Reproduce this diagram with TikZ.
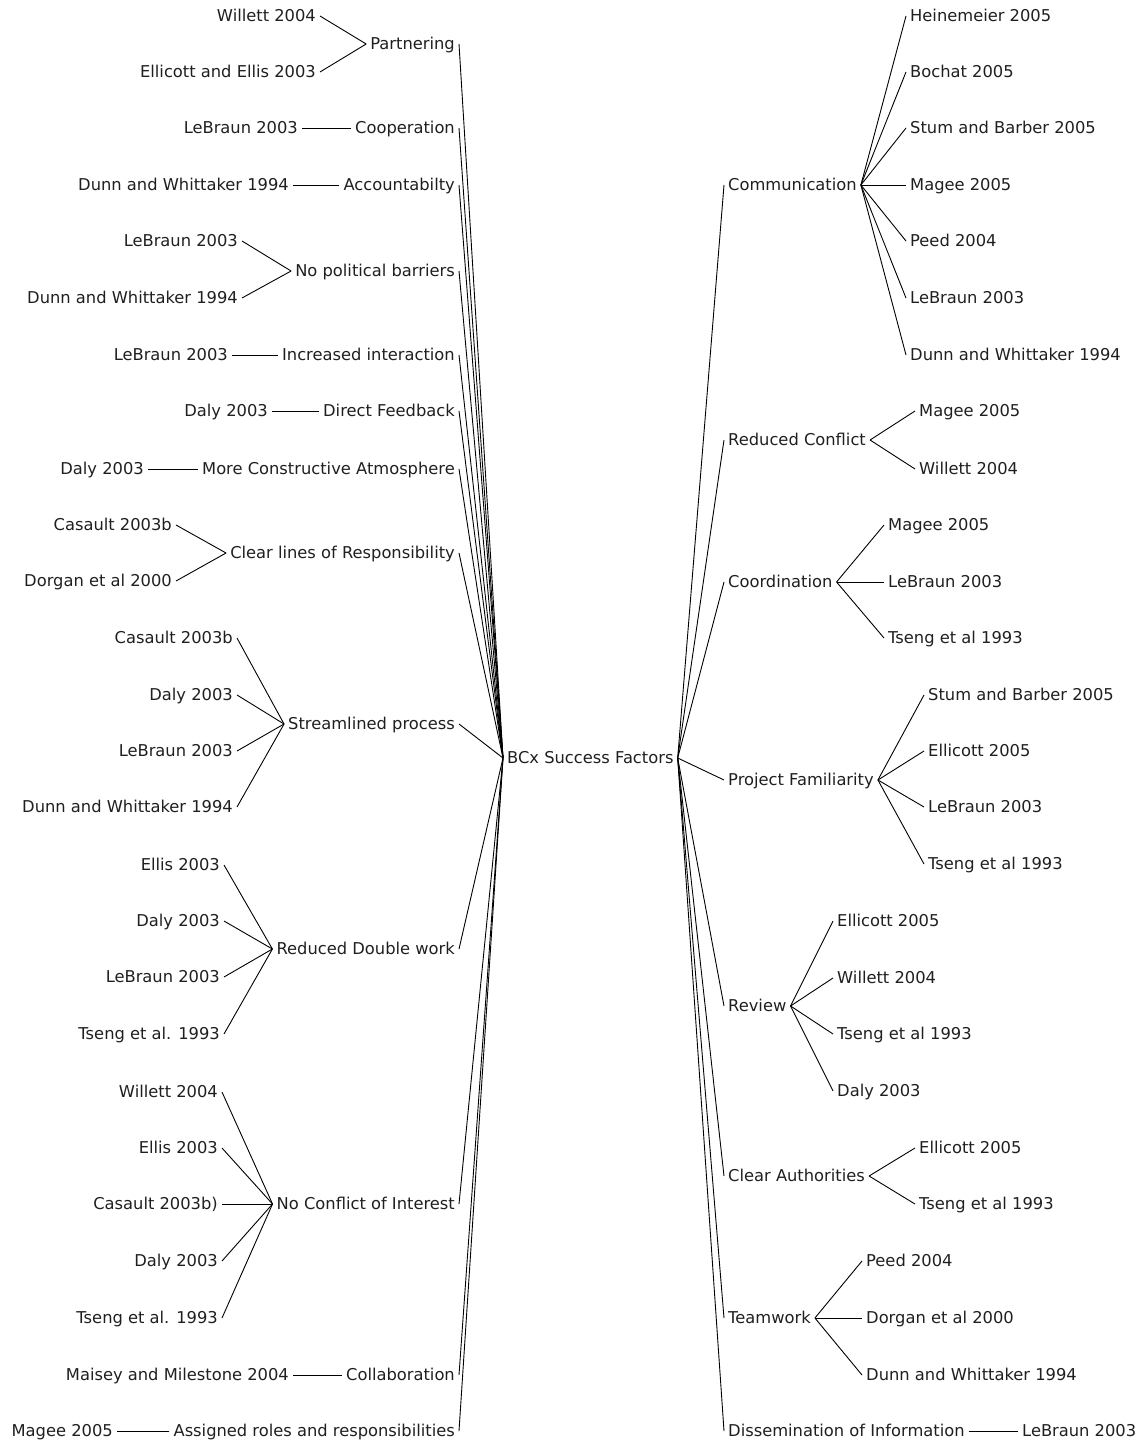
\documentclass[tikz,border=0pt]{standalone}
\usepackage{fontspec}
\setmainfont{DejaVu Sans}
\begin{document}
\begin{tikzpicture}[x=1pt,y=-1pt,
  every node/.style={font=\fontsize{16.3}{18}\selectfont, inner xsep=4pt, inner ysep=0pt,
    text height=11pt, text depth=0pt, text=black!88},
  leftnode/.style={anchor=east},
  rightnode/.style={anchor=west},
  link/.style={draw=black, line width=0.9pt}]
\useasboundingbox (0,0) rectangle (1141,1443);

% central topic
\node[anchor=west] (hub) at (503,758) {BCx Success Factors};

% factors on the left
\foreach \n/\y/\t in {pa/44/Partnering, co/128/Cooperation, ac/185/Accountabilty,
    np/271/No political barriers, ii/355/Increased interaction, df/411/Direct Feedback,
    mc/469/More Constructive Atmosphere, cl/553/Clear lines of Responsibility,
    sp/724/Streamlined process, rd/949/Reduced Double work,
    nc/1204/No Conflict of Interest, cb/1375/Collaboration,
    ar/1431/Assigned roles and responsibilities}{
  \node[leftnode] (\n) at (459,\y) {\t};
  \draw[link] (hub.west) -- (\n.east);
}

% factors on the right
\foreach \n/\y/\t in {cm/185/Communication, rc/440/Reduced Conflict, cd/582/Coordination,
    pf/780/Project Familiarity, rv/1006/Review, ca/1176/Clear Authorities,
    tw/1318/Teamwork, di/1431/Dissemination of Information}{
  \node[rightnode] (\n) at (724,\y) {\t};
  \draw[link] (hub.east) -- (\n.west);
}

% sources on the left
\foreach \p/\n/\x/\y/\t in {
    pa/pa1/320/16/Willett 2004, pa/pa2/320/72/Ellicott and Ellis 2003,
    co/co1/302/128/LeBraun 2003,
    ac/ac1/293/185/Dunn and Whittaker 1994,
    np/np1/242/241/LeBraun 2003, np/np2/242/298/Dunn and Whittaker 1994,
    ii/ii1/232/355/LeBraun 2003,
    df/df1/272/411/Daly 2003,
    mc/mc1/148/469/Daly 2003,
    cl/cl1/176/525/Casault 2003b, cl/cl2/176/581/Dorgan et al 2000,
    sp/sp1/237/638/Casault 2003b, sp/sp2/237/695/Daly 2003,
    sp/sp3/237/751/LeBraun 2003, sp/sp4/237/807/Dunn and Whittaker 1994,
    rd/rd1/224/865/Ellis 2003, rd/rd2/224/921/Daly 2003,
    rd/rd3/224/977/LeBraun 2003, rd/rd4/224/1034/Tseng et al. 1993,
    nc/nc1/222/1092/Willett 2004, nc/nc2/222/1148/Ellis 2003,
    nc/nc3/222/1204/Casault 2003b), nc/nc4/222/1261/Daly 2003,
    nc/nc5/222/1318/Tseng et al. 1993,
    cb/cb1/293/1375/Maisey and Milestone 2004,
    ar/ar1/117/1431/Magee 2005}{
  \node[leftnode] (\n) at (\x,\y) {\t};
  \draw[link] (\p.west) -- (\n.east);
}

% sources on the right
\foreach \p/\n/\x/\y/\t in {
    cm/cm1/906/16/Heinemeier 2005, cm/cm2/906/72/Bochat 2005,
    cm/cm3/906/128/Stum and Barber 2005, cm/cm4/906/185/Magee 2005,
    cm/cm5/906/241/Peed 2004, cm/cm6/906/298/LeBraun 2003,
    cm/cm7/906/355/Dunn and Whittaker 1994,
    rc/rc1/915/411/Magee 2005, rc/rc2/915/469/Willett 2004,
    cd/cd1/884/525/Magee 2005, cd/cd2/884/582/LeBraun 2003,
    cd/cd3/884/638/Tseng et al 1993,
    pf/pf1/924/695/Stum and Barber 2005, pf/pf2/924/751/Ellicott 2005,
    pf/pf3/924/807/LeBraun 2003, pf/pf4/924/864/Tseng et al 1993,
    rv/rv1/833/921/Ellicott 2005, rv/rv2/833/978/Willett 2004,
    rv/rv3/833/1034/Tseng et al 1993, rv/rv4/833/1091/Daly 2003,
    ca/ca1/915/1148/Ellicott 2005, ca/ca2/915/1204/Tseng et al 1993,
    tw/tw1/862/1261/Peed 2004, tw/tw2/862/1318/Dorgan et al 2000,
    tw/tw3/862/1375/Dunn and Whittaker 1994,
    di/di1/1018/1431/LeBraun 2003}{
  \node[rightnode] (\n) at (\x,\y) {\t};
  \draw[link] (\p.east) -- (\n.west);
}
\end{tikzpicture}
\end{document}
